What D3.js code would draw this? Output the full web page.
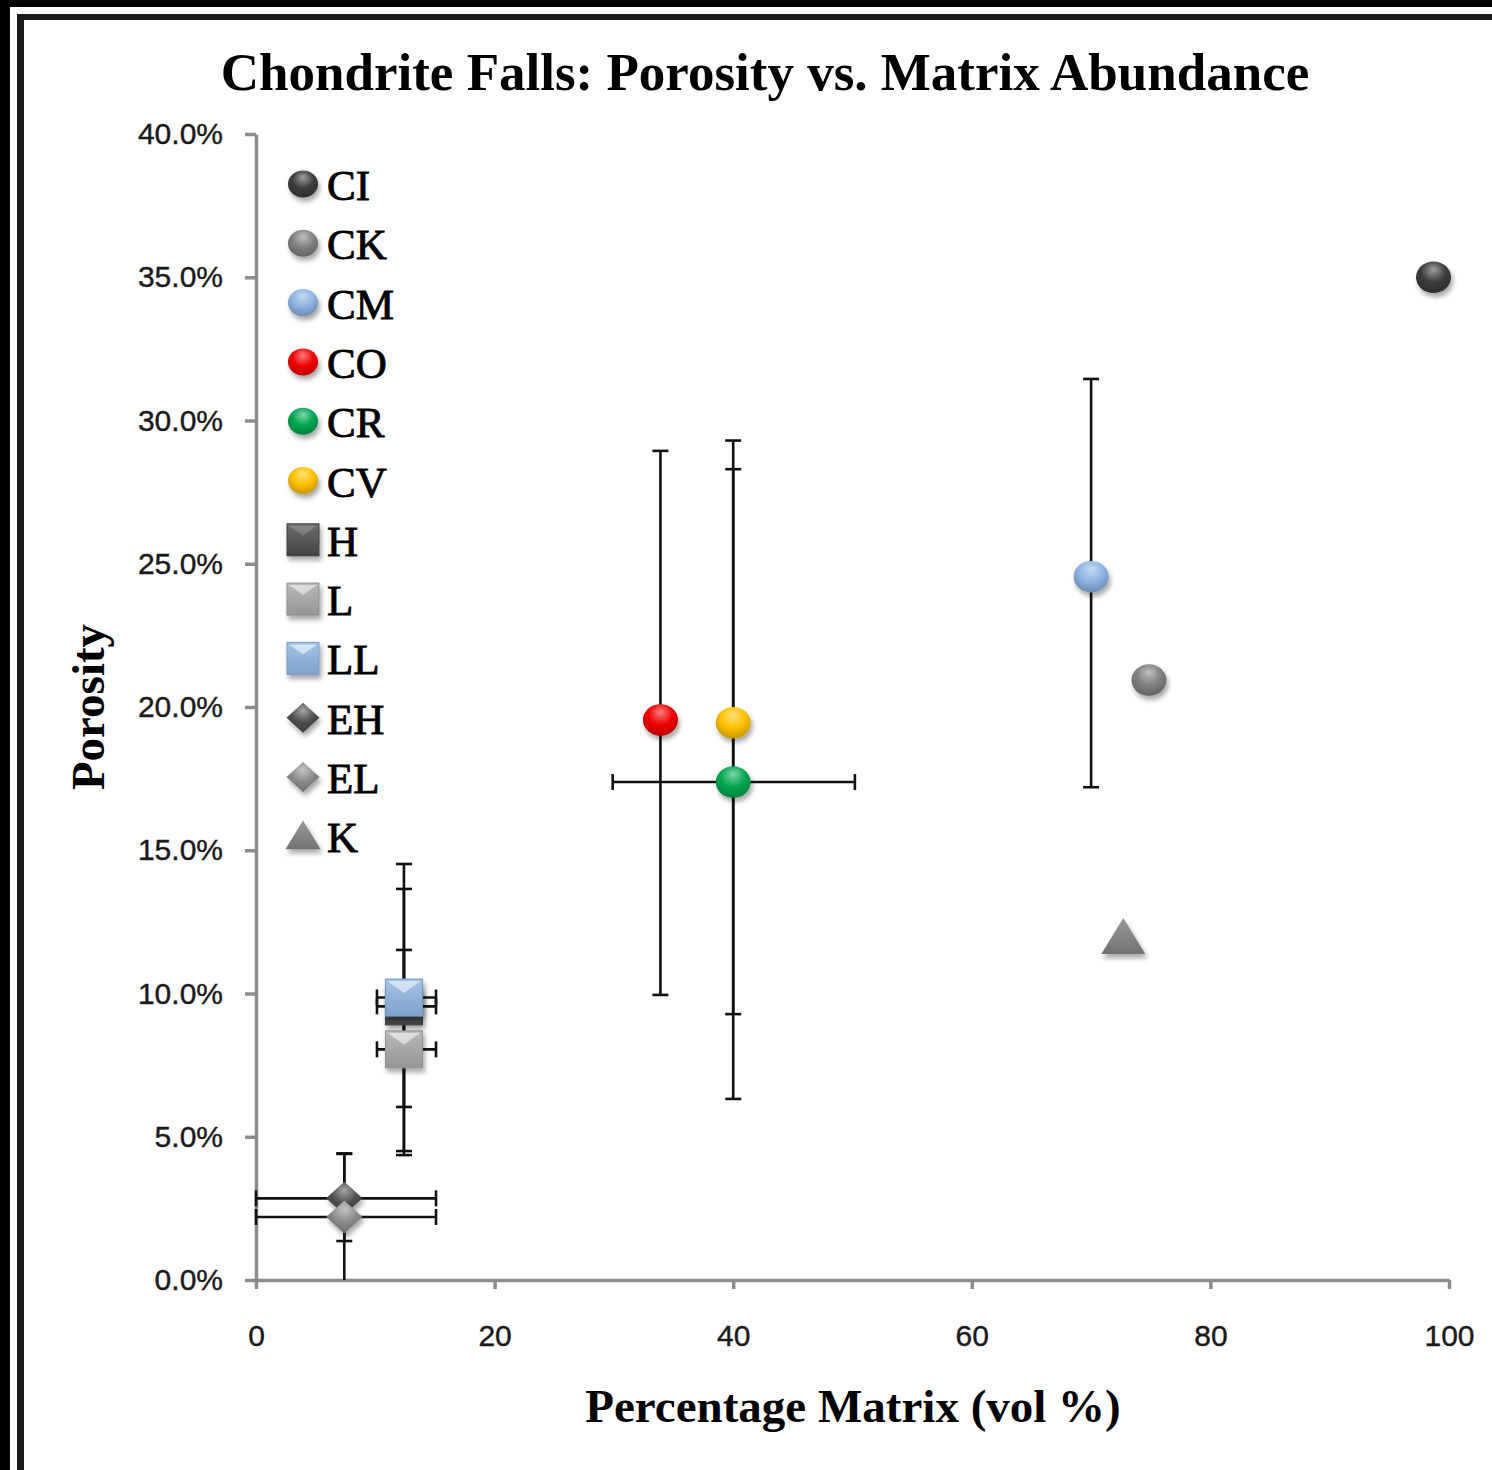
<!DOCTYPE html>
<html><head><meta charset="utf-8">
<script src="https://cdn.jsdelivr.net/npm/d3@7"></script>
<style>html,body{margin:0;padding:0;background:#000;} svg{display:block}</style>
</head><body>
<svg id="c" width="1492" height="1470"></svg>
<script>
// ---------- data ----------
const seriesNames = ["CI","CK","CM","CO","CR","CV","H","L","LL","EH","EL","K"];
const xValues   = [98.7, 74.85, 70.0, 33.9, 40.0, 40.0, 12.4, 12.4, 12.4, 7.4, 7.4, 72.7];
const yValues   = [35.0, 20.94, 24.55, 19.55, 17.38, 19.45, 9.55, 8.05, 9.86, 2.85, 2.2, 11.94]; // porosity %
const yErrLow   = [null, null, 17.2, 9.95, 6.32, 9.28, 4.36, 4.5, 6.04, 1.36, 0, null];
const yErrHigh  = [null, null, 31.45, 28.94, 28.3, 29.3, 14.52, 11.52, 13.65, 4.4, 4.42, null];
const xErrLow   = [null, null, null, null, 29.9, null, 10.14, 10.14, 10.14, 0, 0, null];
const xErrHigh  = [null, null, null, null, 50.2, null, 15.09, 15.09, 15.09, 15.09, 15.09, null];
const markerShapes = ["circle","circle","circle","circle","circle","circle","square","square","square","diamond","diamond","triangle"];
const markerColors = ["#3c3c3c","#808080","#8db4e2","#f00000","#00a651","#ffc000","#4a4a4a","#a6a6a6","#8db4e2","#4d4d4d","#8a8a8a","#7f7f7f"];
const xTicks = [0,20,40,60,80,100];
const yTicks = [0,5,10,15,20,25,30,35,40];
const titleText = "Chondrite Falls: Porosity vs. Matrix Abundance";
const xLabel = "Percentage Matrix (vol %)";
const yLabel = "Porosity";

// ---------- setup ----------
const W = 1492, H = 1470;
const svg = d3.select("#c");
const serif = "'Liberation Serif','Times New Roman',serif";
const sans = "'Liberation Sans',Arial,sans-serif";

// frame
svg.append("rect").attr("width", W).attr("height", H).attr("fill", "#000");
svg.append("rect").attr("x", 10).attr("y", 7).attr("width", W - 10).attr("height", H - 7).attr("fill", "#fff");
svg.append("rect").attr("x", 17).attr("y", 14).attr("width", W - 17).attr("height", H - 14).attr("fill", "#1a1a1a");
svg.append("rect").attr("x", 24).attr("y", 20).attr("width", W - 24).attr("height", H - 20).attr("fill", "#fff");

const defs = svg.append("defs");
const shadow = defs.append("filter").attr("id", "sh").attr("x", "-50%").attr("y", "-50%").attr("width", "200%").attr("height", "200%");
shadow.append("feDropShadow").attr("dx", 2).attr("dy", 4).attr("stdDeviation", 2.5).attr("flood-color", "#000").attr("flood-opacity", 0.35);

seriesNames.forEach((n, i) => {
  const base = markerColors[i];
  const light = d3.interpolateRgb(base, "#fff")(0.5);
  const dark = d3.color(base).darker(0.7).formatHex();
  const rg = defs.append("radialGradient").attr("id", "g" + i).attr("cx", "50%").attr("cy", "35%").attr("r", "65%").attr("fx", "50%").attr("fy", "25%");
  rg.append("stop").attr("offset", "0%").attr("stop-color", light);
  rg.append("stop").attr("offset", "55%").attr("stop-color", base);
  rg.append("stop").attr("offset", "100%").attr("stop-color", dark);
  const lg = defs.append("linearGradient").attr("id", "l" + i).attr("x1", 0).attr("y1", 0).attr("x2", 0).attr("y2", 1);
  lg.append("stop").attr("offset", "0%").attr("stop-color", d3.interpolateRgb(base, "#fff")(0.2));
  lg.append("stop").attr("offset", "100%").attr("stop-color", d3.color(base).darker(0.3).formatHex());
});

const x = d3.scaleLinear().domain([0, 100]).range([256, 1449]);
const y = d3.scaleLinear().domain([0, 40]).range([1280, 134]);

// axes
const axisColor = "#8c8c8c";
const gx = svg.append("g").attr("transform", `translate(0,${y(0)})`)
  .call(d3.axisBottom(x).tickValues(xTicks).tickSize(9).tickSizeOuter(0).tickPadding(36).tickFormat(d3.format("d")));
const gy = svg.append("g").attr("transform", `translate(${x(0)},0)`)
  .call(d3.axisLeft(y).tickValues(yTicks).tickSize(11).tickSizeOuter(0).tickPadding(22).tickFormat(d => d.toFixed(1) + "%"));
[gx, gy].forEach(g => {
  g.select(".domain").attr("stroke", axisColor).attr("stroke-width", 3.5);
  g.selectAll(".tick line").attr("stroke", axisColor).attr("stroke-width", 3.5);
  g.selectAll(".tick text").attr("font-family", sans).attr("font-size", 30).attr("fill", "#1a1a1a")
    .attr("stroke", "#1a1a1a").attr("stroke-width", 0.4);
});

// titles
svg.append("text").attr("x", 765).attr("y", 90).attr("text-anchor", "middle")
  .attr("font-family", serif).attr("font-weight", "bold").attr("font-size", 53).attr("fill", "#000").text(titleText);
svg.append("text").attr("x", 853).attr("y", 1422).attr("text-anchor", "middle")
  .attr("font-family", serif).attr("font-weight", "bold").attr("font-size", 47).attr("fill", "#000").text(xLabel);
svg.append("text").attr("transform", "translate(104,707) rotate(-90)").attr("text-anchor", "middle")
  .attr("font-family", serif).attr("font-weight", "bold").attr("font-size", 47).attr("fill", "#000").text(yLabel);

// error bars
const eb = svg.append("g").attr("stroke", "#111").attr("stroke-width", 2.6).attr("fill", "none");
const cap = 8;
seriesNames.forEach((n, i) => {
  if (yErrLow[i] !== null) {
    const cx = x(xValues[i]);
    eb.append("line").attr("x1", cx).attr("x2", cx).attr("y1", y(yErrLow[i])).attr("y2", y(yErrHigh[i]));
    [yErrLow[i], yErrHigh[i]].forEach(v => {
      if (v > 0) eb.append("line").attr("x1", cx - cap).attr("x2", cx + cap).attr("y1", y(v)).attr("y2", y(v));
    });
  }
  if (xErrLow[i] !== null) {
    const cy = y(yValues[i]);
    eb.append("line").attr("x1", x(xErrLow[i])).attr("x2", x(xErrHigh[i])).attr("y1", cy).attr("y2", cy);
    [xErrLow[i], xErrHigh[i]].forEach(v => {
      eb.append("line").attr("x1", x(v)).attr("x2", x(v)).attr("y1", cy - cap).attr("y2", cy + cap);
    });
  }
});

// marker drawing
function drawMarker(g, shape, i, cx, cy, s) {
  const mg = g.append("g").attr("filter", "url(#sh)");
  if (shape === "circle") {
    mg.append("ellipse").attr("cx", cx).attr("cy", cy).attr("rx", s).attr("ry", s * 0.9).attr("fill", `url(#g${i})`);
  } else if (shape === "square") {
    mg.append("rect").attr("x", cx - s).attr("y", cy - s).attr("width", 2 * s).attr("height", 2 * s).attr("fill", `url(#l${i})`)
      .attr("stroke", d3.color(markerColors[i]).darker(0.4)).attr("stroke-width", 1);
    mg.append("path").attr("d", `M${cx - s + 2},${cy - s + 2}L${cx + s - 2},${cy - s + 2}L${cx},${cy - s * 0.25}Z`)
      .attr("fill", "#fff").attr("opacity", i === 6 ? 0.18 : 0.55);
  } else if (shape === "diamond") {
    mg.append("path").attr("d", `M${cx},${cy - s}L${cx + s * 1.1},${cy}L${cx},${cy + s}L${cx - s * 1.1},${cy}Z`).attr("fill", `url(#g${i})`);
  } else if (shape === "triangle") {
    const h = s * 1.8;
    mg.append("path").attr("d", `M${cx},${cy - h * 0.55}L${cx + s * 1.1},${cy + h * 0.45}L${cx - s * 1.1},${cy + h * 0.45}Z`).attr("fill", `url(#l${i})`);
  }
}

const mk = svg.append("g");
const plotSize = {circle: 17.5, square: 18.5, diamond: 16.5, triangle: 20};
seriesNames.forEach((n, i) => {
  drawMarker(mk, markerShapes[i], i, x(xValues[i]), y(yValues[i]), plotSize[markerShapes[i]]);
});

// legend
const lg = svg.append("g");
const legSize = {circle: 15, square: 16, diamond: 15, triangle: 16};
seriesNames.forEach((n, i) => {
  const cy = 184 + i * 59.3;
  drawMarker(lg, markerShapes[i], i, 303, cy, legSize[markerShapes[i]]);
  lg.append("text").attr("x", 327).attr("y", cy + 16).attr("font-family", serif).attr("font-size", 43)
    .attr("fill", "#000").attr("stroke", "#000").attr("stroke-width", 0.9).text(n);
});
</script>
</body></html>
